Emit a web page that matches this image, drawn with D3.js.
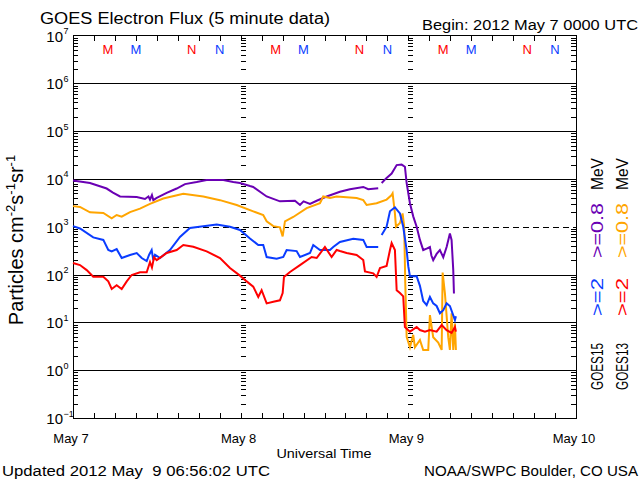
<!DOCTYPE html>
<html><head><meta charset="utf-8">
<script src="https://cdn.jsdelivr.net/npm/d3@7"></script>
<style>
body{margin:0;background:#fff}
svg{display:block}
text{font-family:"Liberation Sans",Arial,sans-serif;fill:#000}
</style>
</head><body><svg id="c" width="640" height="480"></svg>
<script>
// ---- data (hours since 2012 May 7 00:00 UTC, flux in particles cm^-2 s^-1 sr^-1) ----
const dayHours = [0, 24, 48, 72];
const dayLabels = ["May 7", "May 8", "May 9", "May 10"];
const decadeExps = [-1, 0, 1, 2, 3, 4, 5, 6, 7];
const markerHours = [5, 9, 17, 21, 29, 33, 41, 45, 53, 57, 65, 69];
const markerLetters = ["M","M","N","N","M","M","N","N","M","M","N","N"];
const markerSat = ["13","15","13","15","13","15","13","15","13","15","13","15"];

const purpleHours = [0,2.43,4.82,5.72,6.73,9.12,10.3,10.8,11.02,11.3,11.5,11.98,13.41,14.84,16.03,17.7,19.13,21.51,22.94,23.9,25.33,25.8,27.72,29.62,31.77,32.49,33.0,33.92,34.88,36.31,38.21,39.64,41.55,42.26,43.69,43.9,44.18,44.89,45.61,46.33,47.04,47.51,47.76,48.23,48.7,49.19,49.66,50.13,50.62,51.09,51.3,51.56,52.05,52.52,53.0,53.48,53.95,54.19,54.43,54.53];
const purpleFlux = [9.3e3,8.2e3,6.3e3,5.2e3,4.3e3,4.2e3,3.8e3,4.3e3,3.7e3,4.6e3,3.6e3,4.0e3,5.1e3,6.3e3,7.8e3,8.6e3,9.5e3,9.5e3,8.6e3,8.2e3,7.1e3,6.8e3,4.3e3,3.4e3,3.5e3,2.85e3,3.4e3,3.0e3,3.5e3,4.3e3,5.4e3,6.1e3,6.8e3,6.1e3,6.4e3,null,8.2e3,1.05e4,1.3e4,1.95e4,2.0e4,1.8e4,8.2e3,3.1e3,1.65e3,1.0e3,530,326,350,377,250,201,270,326,230,377,720,530,124,40];

const orangeHours = [0,1.0,2.43,4.34,5.54,6.25,6.97,8.16,9.59,11.02,12.92,15.79,18.65,21.04,23.43,25.8,27.23,27.72,28.67,29.62,30.01,30.34,31.53,33.45,35.35,35.82,36.78,37.74,40.6,41.55,42.03,43.46,44.89,45.61,45.75,46.08,46.23,46.8,47.18,47.41,47.56,47.76,48.23,48.7,48.94,49.66,50.13,50.85,51.09,51.56,52.28,52.77,52.91,53.24,53.71,53.95,54.19,54.43,54.67,54.81];
const orangeFlux = [2.7e3,2.6e3,2.0e3,1.94e3,1.5e3,1.76e3,1.62e3,2.03e3,2.4e3,3.0e3,3.9e3,4.9e3,4.3e3,3.6e3,2.85e3,2.1e3,1.76e3,1.3e3,1.03e3,970,630,1.3e3,1.6e3,2.45e3,3.1e3,4.3e3,4.0e3,4.3e3,4.0e3,3.6e3,2.85e3,3.1e3,3.7e3,4.6e3,5.0e3,1.9e3,1.0e3,1.2e3,1.9e3,1.0e3,67,5.0,3.0,5.5,3.0,4.3,2.65,2.65,14.2,4.9,3.8,2.65,110,40,4.9,2.65,15.5,2.65,9.5,2.65];

const blueHours = [0,1.0,2.9,4.34,5.05,5.54,6.25,6.97,8.16,9.12,9.83,10.55,10.9,11.26,11.5,11.74,12.45,13.88,15.31,16.74,18.65,20.57,22.47,23.9,25.33,26.52,27.23,27.72,29.15,30.1,30.58,32.01,32.49,33.92,34.39,35.35,36.78,37.25,38.21,40.11,41.55,42.03,43.69,43.9,44.18,44.89,45.37,46.08,46.8,47.27,47.76,47.99,48.23,49.19,49.66,50.13,50.62,51.09,51.56,52.05,52.52,53.0,53.48,53.95,54.43,54.67,54.81];
const blueFlux = [1.03e3,920,600,530,326,305,340,222,256,282,222,192,260,326,200,260,222,326,610,940,1.03e3,1.12e3,1.0e3,855,570,415,415,233,215,233,326,310,233,282,415,326,326,377,480,560,530,377,377,null,670,1.0e3,2.1e3,2.55e3,1.9e3,1.0e3,326,150,92,92,58,28,23,34,25,22,15.5,18,25,22,14,11.2,13.5];

const redHours = [0,1.0,1.96,2.9,4.34,5.05,5.54,6.25,6.97,7.69,8.4,9.59,10.55,11.02,11.3,11.6,11.98,13.41,14.84,15.79,17.22,19.13,21.04,22.47,23.9,24.86,25.8,26.52,27.0,27.72,28.67,29.62,30.01,30.2,31.06,32.49,34.16,34.88,36.06,37.02,37.74,38.21,39.17,40.6,41.55,41.79,42.98,43.46,43.94,44.89,45.37,45.61,46.08,46.33,46.8,47.27,47.51,48.23,49.19,49.66,50.38,51.09,52.05,52.77,53.48,54.19,54.67,54.81];
const redFlux = [175,158,124,90,90,72,50,60,50,72,98,112,112,183,140,230,201,282,326,415,380,305,222,137,95,72,56,34,47,25,27,29,41,89,113,158,233,222,377,233,326,310,282,256,201,116,106,89,137,151,326,457,326,47,41,35,8.0,6.4,8.0,6.9,6.4,6.9,6.4,8.8,6.9,6.0,8.0,6.4];

const seriesColors = {purple:"#6a00b4", orange:"#ffa500", blue:"#0a3cff", red:"#ff0000"};

// ---- layout ----
const svg = d3.select("#c");
const x = d3.scaleLinear().domain([0, 72]).range([73, 576]);
const y = d3.scaleLog().domain([0.1, 1e7]).range([418, 35.5]);

const minorVals = [];
for (let e = -1; e < 7; e++) for (let k = 2; k <= 9; k++) minorVals.push(k * Math.pow(10, e));
const hourTicks = d3.range(0, 73, 3);

const ax = svg.append("g").attr("shape-rendering","crispEdges");
function styleAxis(g){ g.select(".domain").remove(); g.selectAll("line").attr("stroke","#000"); g.selectAll("text").remove(); }

// gridlines
ax.selectAll("line.grid").data(decadeExps.filter(e => e > -1 && e < 7)).enter().append("line")
  .attr("x1", x(0)).attr("x2", x(72))
  .attr("y1", e => Math.round(y(Math.pow(10, e))) + 0.5).attr("y2", e => Math.round(y(Math.pow(10, e))) + 0.5)
  .attr("stroke", "#000").attr("stroke-width", 1)
  .attr("stroke-dasharray", e => e === 3 ? "6,4" : null);

ax.append("g").attr("transform",`translate(${x(0)},0)`).call(d3.axisRight(y).tickValues(minorVals).tickSize(5).tickFormat("")).call(styleAxis);
ax.append("g").attr("transform",`translate(${x(72)},0)`).call(d3.axisLeft(y).tickValues(minorVals).tickSize(5).tickFormat("")).call(styleAxis);
[24, 48].forEach(h => {
  ax.append("g").attr("transform",`translate(${x(h)},0)`).call(d3.axisRight(y).tickValues(minorVals).tickSize(5).tickFormat("")).call(styleAxis);
});
ax.append("g").attr("transform",`translate(0,${y(1e7)})`).call(d3.axisBottom(x).tickValues(hourTicks).tickSize(5).tickFormat("")).call(styleAxis);
ax.append("g").attr("transform",`translate(0,${y(0.1)})`).call(d3.axisTop(x).tickValues(hourTicks).tickSize(5).tickFormat("")).call(styleAxis);

ax.append("rect").attr("x", x(0)).attr("y", y(1e7)).attr("width", x(72) - x(0)).attr("height", y(0.1) - y(1e7))
  .attr("fill","none").attr("stroke","#000").attr("stroke-width",1);

// data lines
const line = d3.line().defined(d => d[1] != null).x(d => x(d[0])).y(d => y(d[1]));
function draw(hours, flux, color){
  const pts = hours.map((h, i) => [h, flux[i]]);
  svg.append("path").datum(pts).attr("d", line).attr("fill","none").attr("stroke", color)
     .attr("stroke-width", 2).attr("stroke-linejoin","miter");
}
draw(purpleHours, purpleFlux, seriesColors.purple);
draw(orangeHours, orangeFlux, seriesColors.orange);
draw(blueHours, blueFlux, seriesColors.blue);
draw(redHours, redFlux, seriesColors.red);

// M / N markers
svg.selectAll("text.mk").data(markerHours).enter().append("text")
  .attr("x", h => x(h)).attr("y", 54).attr("text-anchor","middle").attr("font-size", 13)
  .style("fill", (h, i) => markerSat[i] === "13" ? "#ff0000" : "#0a3cff")
  .text((h, i) => markerLetters[i]);

// y labels
decadeExps.forEach(e => {
  const yy = y(Math.pow(10, e));
  svg.append("text").attr("x", 63).attr("y", yy + 6).attr("text-anchor","end").attr("font-size", 15).text("10");
  svg.append("text").attr("x", 63.5).attr("y", yy - 1.5).attr("font-size", 9).text(String(e).replace("-", "\u2212"));
});

// x labels
dayHours.forEach((h, i) => {
  svg.append("text").attr("x", x(h) - 2).attr("y", 443).attr("text-anchor","middle").attr("font-size", 13).text(dayLabels[i]);
});
svg.append("text").attr("x", 324).attr("y", 458).attr("text-anchor","middle").attr("font-size", 13)
  .attr("textLength", 95).attr("lengthAdjust","spacingAndGlyphs").text("Universal Time");

// titles
svg.append("text").attr("x", 40).attr("y", 24).attr("font-size", 16)
  .attr("textLength", 290).attr("lengthAdjust","spacingAndGlyphs").text("GOES Electron Flux (5 minute data)");
svg.append("text").attr("x", 422).attr("y", 30).attr("font-size", 14)
  .attr("textLength", 216).attr("lengthAdjust","spacingAndGlyphs").text("Begin: 2012 May 7 0000 UTC");
svg.append("text").attr("x", 2).attr("y", 476).attr("font-size", 14)
  .attr("textLength", 268).attr("lengthAdjust","spacingAndGlyphs").attr("xml:space","preserve").text("Updated 2012 May  9 06:56:02 UTC");
svg.append("text").attr("x", 424).attr("y", 476).attr("font-size", 14)
  .attr("textLength", 214).attr("lengthAdjust","spacingAndGlyphs").text("NOAA/SWPC Boulder, CO USA");

// y-axis title
const yt = svg.append("text").attr("transform","translate(23,240) rotate(-90)").attr("text-anchor","middle").attr("font-size", 20);
yt.append("tspan").text("Particles cm");
yt.append("tspan").attr("dy", -8).attr("font-size", 13).text("-2");
yt.append("tspan").attr("dy", 8).text("s");
yt.append("tspan").attr("dy", -8).attr("font-size", 13).text("-1");
yt.append("tspan").attr("dy", 8).text("sr");
yt.append("tspan").attr("dy", -8).attr("font-size", 13).text("-1");

// right legend
const legendCols = [
  {x: 603, items: [["GOES15", "#000", 390, 47], [">=2", seriesColors.blue, 316, 38], [">=0.8", seriesColors.purple, 258, 55], ["MeV", "#000", 190, 32]]},
  {x: 628, items: [["GOES13", "#000", 390, 47], [">=2", seriesColors.red, 316, 38], [">=0.8", seriesColors.orange, 258, 55], ["MeV", "#000", 190, 32]]}
];
legendCols.forEach(c => {
  c.items.forEach(([txt, col, y0, len]) => {
    svg.append("text").attr("transform", `translate(${c.x},${y0}) rotate(-90)`).attr("font-size", 16)
      .attr("textLength", len).attr("lengthAdjust","spacingAndGlyphs").style("fill", col).text(txt);
  });
});
</script>
</body></html>
